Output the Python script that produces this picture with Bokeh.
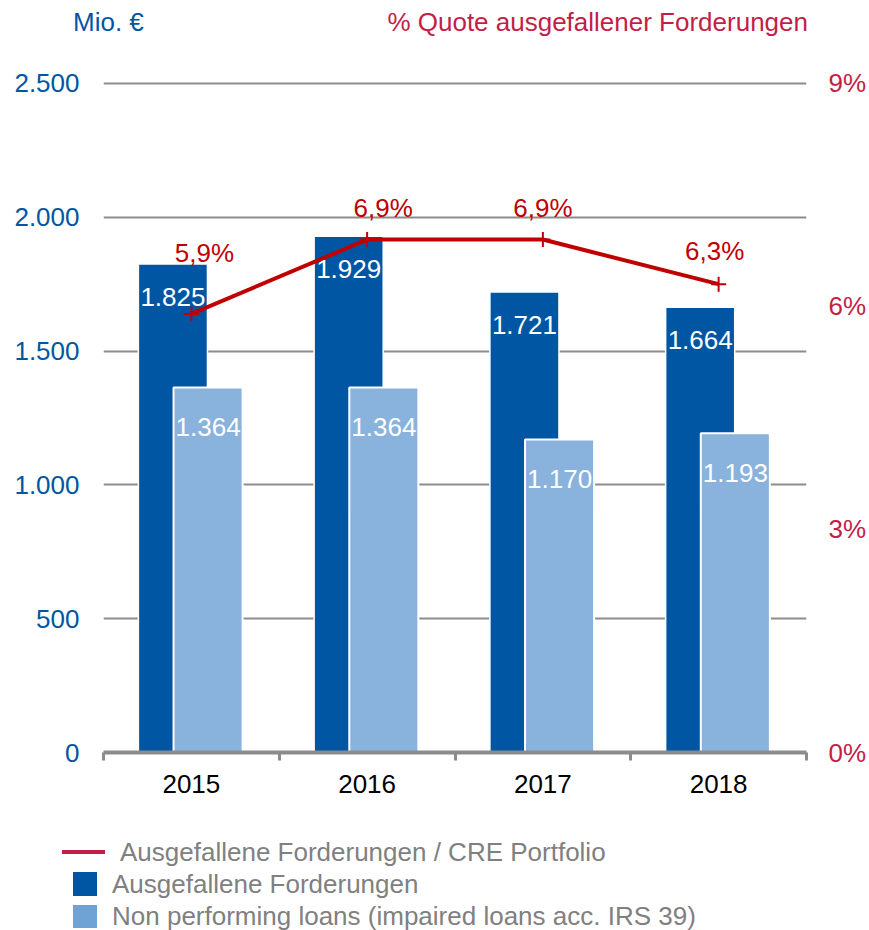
from bokeh.plotting import figure
from bokeh.layouts import column
from bokeh.models import ColumnDataSource, Range1d, LinearAxis, FixedTicker, Div
from bokeh.transform import dodge
from bokeh.core.properties import value
from bokeh.embed import file_html
from bokeh.resources import INLINE

# ---------------- data ----------------
years = ["2015", "2016", "2017", "2018"]
ausgefallene = [1825, 1929, 1721, 1664]
npl = [1364, 1364, 1170, 1193]
quote = [5.9, 6.9, 6.9, 6.3]
ausgefallene_labels = ["1.825", "1.929", "1.721", "1.664"]
npl_labels = ["1.364", "1.364", "1.170", "1.193"]
quote_labels = ["5,9%", "6,9%", "6,9%", "6,3%"]
y_ticks = [0, 500, 1000, 1500, 2000, 2500]
y_tick_labels = ["0", "500", "1.000", "1.500", "2.000", "2.500"]
pct_ticks = [0, 3, 6, 9]
pct_tick_labels = ["0%", "3%", "6%", "9%"]
left_header = "Mio. €"
right_header = "% Quote ausgefallener Forderungen"
legend_labels = ["Ausgefallene Forderungen / CRE Portfolio",
                 "Ausgefallene Forderungen",
                 "Non performing loans (impaired loans acc. IRS 39)"]

# ---------------- style ----------------
FONT = "Liberation Sans"
FS = "26px"
DARK = "#0056A3"
LIGHT = "#89B2DC"
LEG_LIGHT = "#6FA3D6"
RED = "#C00000"
CRIMSON = "#C41E46"
BLUE_TXT = "#0056A3"
GRID = "#8C8C8C"
LEG_GRAY = "#808080"
W = 869
HH, MH = 60, 750
LH = 930 - HH - MH
Y_END = 2511                    # a bit above 2500 so the top grid line shows
PCT_END = 9 * Y_END / 2500
quote_dx = [13, 16, 0, -4]      # label nudges (px)
quote_dy = [-61, -32, -32, -33]
LINE_H = 26


def span(txt, left, center_y, color, right=None):
    pos = f"right:{right}px;" if right is not None else f"left:{left}px;"
    top = center_y - LINE_H // 2
    return (f'<span style="position:absolute;{pos}top:{top}px;color:{color};'
            f"font-family:'{FONT}',Arial,sans-serif;font-size:{FS};"
            f'line-height:{LINE_H}px;white-space:nowrap;">{txt}</span>')


def box(left, top, w, h, color):
    return (f'<div style="position:absolute;left:{left}px;top:{top}px;width:{w}px;'
            f'height:{h}px;background:{color};"></div>')


# ---------------- header ----------------
head_html = (f'<div style="position:relative;width:{W}px;height:{HH}px;margin:0;padding:0;">'
             + span(left_header, 73, 22, BLUE_TXT)
             + span(right_header, None, 22, CRIMSON, right=W - 808)
             + '</div>')
head = Div(text=head_html, width=W, height=HH, margin=0)

# ---------------- main chart ----------------
idx = list(range(len(years)))
src = ColumnDataSource(dict(idx=idx, ausg=ausgefallene, npl=npl, quote=quote,
                            ausg_lbl=ausgefallene_labels, npl_lbl=npl_labels,
                            quote_lbl=quote_labels, qdx=quote_dx, qdy=quote_dy))

p = figure(width=W, height=MH, x_range=Range1d(-0.5, len(years) - 0.5),
           y_range=Range1d(0, Y_END), output_backend="svg", toolbar_location=None,
           min_border_left=103, min_border_right=63, min_border_top=20,
           min_border_bottom=58, margin=0)
p.title.visible = False
p.outline_line_color = None
p.extra_y_ranges = {"pct": Range1d(0, PCT_END)}

p.xgrid.visible = False
p.ygrid.ticker = FixedTicker(ticks=y_ticks[1:])
p.ygrid.grid_line_color = GRID
p.ygrid.grid_line_width = 2

ya = p.yaxis[0]
ya.ticker = FixedTicker(ticks=y_ticks)
ya.major_label_overrides = {t: l for t, l in zip(y_ticks, y_tick_labels)}
ya.axis_line_color = None
ya.major_tick_line_color = None
ya.minor_tick_line_color = None
ya.major_tick_out = 0
ya.major_tick_in = 0
ya.major_label_standoff = 24
ya.major_label_text_color = BLUE_TXT
ya.major_label_text_font = FONT
ya.major_label_text_font_size = FS

ra = LinearAxis(y_range_name="pct", ticker=FixedTicker(ticks=pct_ticks))
ra.major_label_overrides = {t: l for t, l in zip(pct_ticks, pct_tick_labels)}
ra.axis_line_color = None
ra.major_tick_line_color = None
ra.minor_tick_line_color = None
ra.major_tick_out = 0
ra.major_tick_in = 0
ra.major_label_standoff = 22
ra.major_label_text_color = CRIMSON
ra.major_label_text_font = FONT
ra.major_label_text_font_size = FS
p.add_layout(ra, "right")

xa = p.xaxis[0]
xa.ticker = FixedTicker(ticks=idx, minor_ticks=[i - 0.5 for i in range(len(years) + 1)])
xa.major_label_overrides = {i: y for i, y in zip(idx, years)}
xa.axis_line_color = GRID
xa.axis_line_width = 4
xa.major_tick_line_color = None
xa.major_tick_out = 0
xa.major_tick_in = 0
xa.minor_tick_line_color = GRID
xa.minor_tick_line_width = 3
xa.minor_tick_in = 0
xa.minor_tick_out = 8
xa.major_label_standoff = 14
xa.major_label_text_color = "black"
xa.major_label_text_font = FONT
xa.major_label_text_font_size = FS

p.vbar(x=dodge("idx", -0.105), top="ausg", width=0.393, source=src,
       fill_color=DARK, line_color="white", line_width=1.5)
p.vbar(x=dodge("idx", 0.095), top="npl", width=0.393, source=src,
       fill_color=LIGHT, line_color="white", line_width=2)

p.text(x=dodge("idx", -0.105), y="ausg", text="ausg_lbl", source=src,
       text_color="white", text_align="center", text_baseline="middle", y_offset=33,
       text_font=value(FONT), text_font_size=value(FS))
p.text(x=dodge("idx", 0.095), y="npl", text="npl_lbl", source=src,
       text_color="white", text_align="center", text_baseline="middle", y_offset=40,
       text_font=value(FONT), text_font_size=value(FS))

p.line(x="idx", y="quote", source=src, y_range_name="pct", line_color=RED, line_width=4)
p.scatter(x="idx", y="quote", source=src, y_range_name="pct", marker="cross",
          size=15, line_color=RED, line_width=2)
p.text(x="idx", y="quote", text="quote_lbl", source=src, y_range_name="pct",
       x_offset="qdx", y_offset="qdy", text_color=RED, text_align="center",
       text_baseline="middle", text_font=value(FONT), text_font_size=value(FS))

# ---------------- legend ----------------
y0 = HH + MH
leg_html = (f'<div style="position:relative;width:{W}px;height:{LH}px;margin:0;padding:0;">'
            + box(62, 850 - y0, 43, 4, CRIMSON)
            + span(legend_labels[0], 120, 852 - y0, LEG_GRAY)
            + box(73, 872 - y0, 24, 24, DARK)
            + span(legend_labels[1], 112, 884 - y0, LEG_GRAY)
            + box(73, 905 - y0, 24, 23, LEG_LIGHT)
            + span(legend_labels[2], 112, 916 - y0, LEG_GRAY)
            + '</div>')
leg = Div(text=leg_html, width=W, height=LH, margin=0)

layout = column(head, p, leg, spacing=0)
open("out.html", "w").write(file_html(layout, INLINE))
